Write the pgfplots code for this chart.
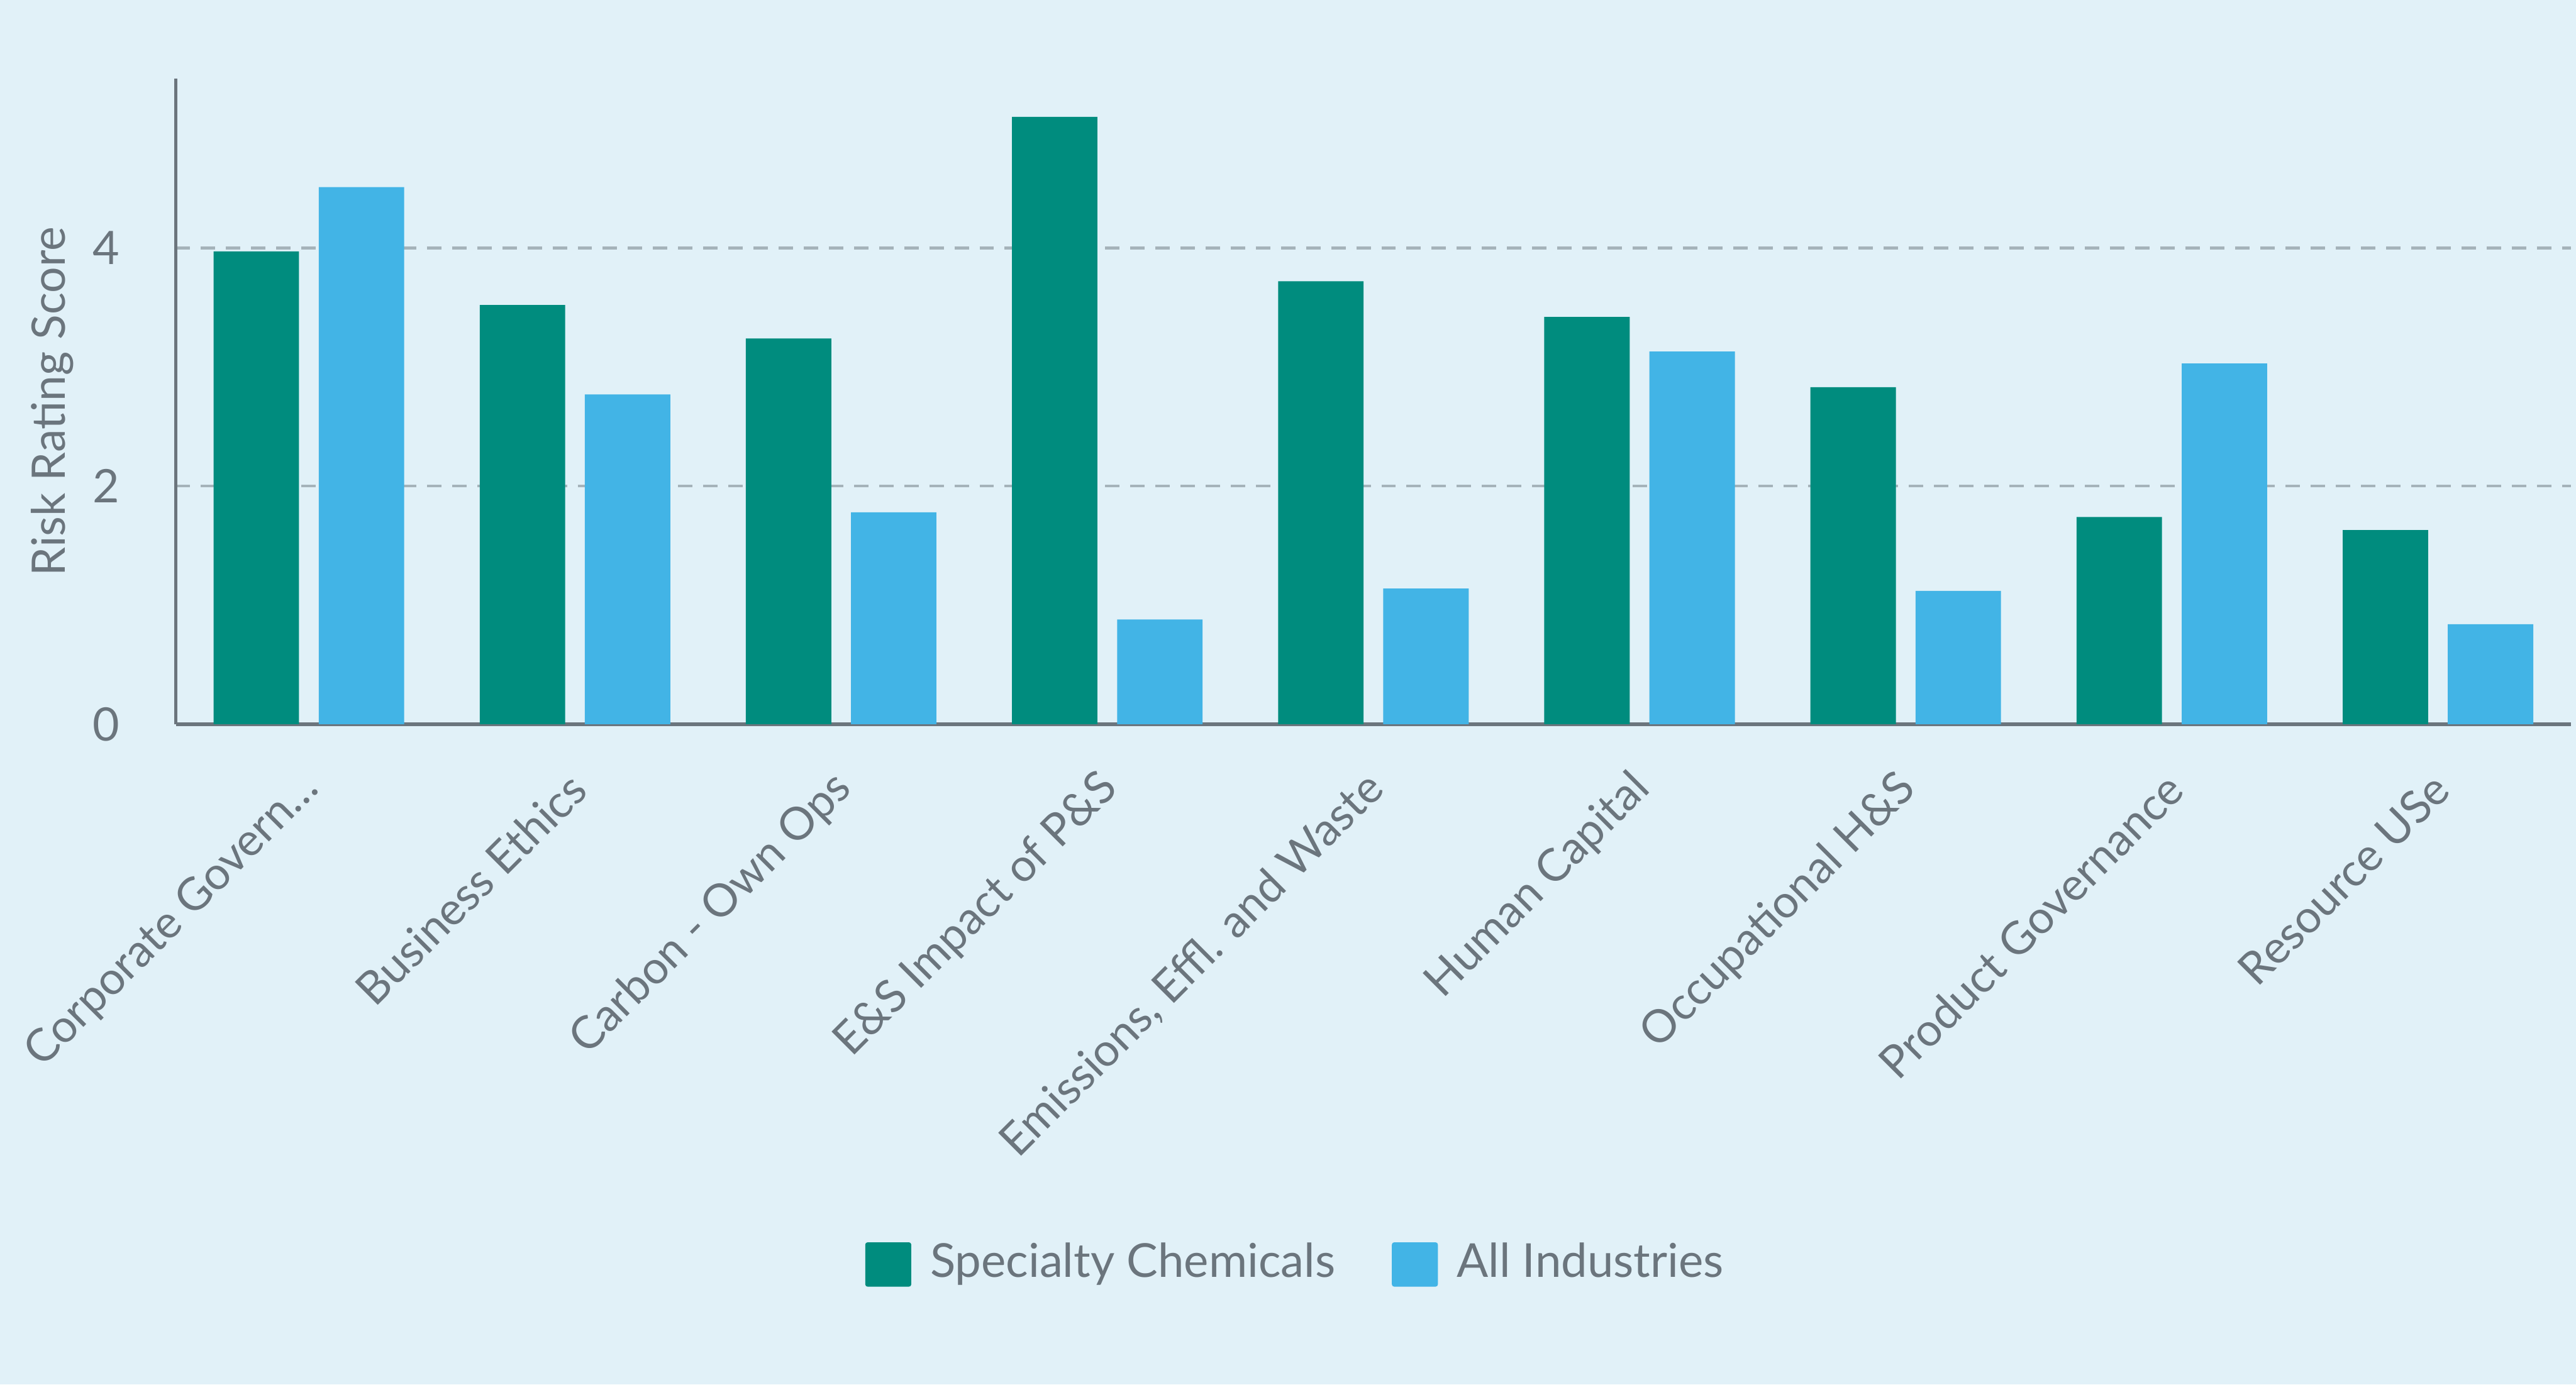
\documentclass[border=0pt]{standalone}
\usepackage{fontspec}
\setmainfont{Lato}
\usepackage{pgfplots}
\pgfplotsset{compat=1.18}
\definecolor{bgc}{HTML}{E1F1F8}
\definecolor{greenc}{HTML}{008C7E}
\definecolor{bluec}{HTML}{42B4E6}
\definecolor{textc}{HTML}{6B757D}
\definecolor{axisc}{HTML}{6B757D}
\definecolor{gridc}{HTML}{A5B3BA}
\begin{document}
\begin{tikzpicture}[font=\fontsize{8pt}{10pt}\selectfont]
\fill[bgc] (0,0) rectangle (15.68cm,8.43cm);
\begin{axis}[
  at={(1.07cm,4.02cm)}, anchor=south west,
  scale only axis, width=14.58cm, height=3.93cm,
  xmin=-0.5, xmax=8.5, ymin=0, ymax=5.42,
  axis x line*=bottom, axis y line*=left,
  axis line style={draw=axisc, line width=0.6pt, -},
  major tick length=0,
  ytick={0,2,4},
  xtick={0,1,2,3,4,5,6,7,8},
  xticklabels={{Corporate Govern\dots},{Business Ethics},{Carbon - Own Ops},{E\&S Impact of P\&S},{Emissions, Effl. and Waste},{Human Capital},{Occupational H\&S},{Product Governance},{Resource USe}},
  xticklabel style={rotate=45, anchor=east, xshift=-1.1mm, yshift=-2.6mm, text=textc, font=\fontsize{7.85pt}{10pt}\selectfont},
  yticklabel style={xshift=-2.2mm, text=textc},
  /pgf/number format/assume math mode=true,
  ymajorgrids,
  grid style={draw=gridc, line width=0.5pt, dash pattern=on 2.5pt off 1.85pt},
  ylabel={Risk Rating Score},
  ylabel style={at={(axis description cs:-0.0515,0.5)}, anchor=center, text=textc},
  legend columns=2,
  legend style={at={(0.471,-0.837)}, anchor=center, draw=none, fill=none,
    text=textc, font=\fontsize{8.1pt}{10pt}\selectfont,
    /tikz/every even column/.append style={column sep=2.3mm},
    nodes={inner sep=1.15mm}},
  legend image code/.code={\fill[#1, rounded corners=0.4pt] (0cm,-0.135cm) rectangle (0.28cm,0.135cm);},
]
\addplot[ybar, fill=greenc, draw=none, bar width=0.52cm, bar shift=-0.32cm] coordinates {
  (0,3.97) (1,3.52) (2,3.24) (3,5.10) (4,3.72) (5,3.42) (6,2.83) (7,1.74) (8,1.63)};
\addlegendentry{Specialty Chemicals}
\addplot[ybar, fill=bluec, draw=none, bar width=0.52cm, bar shift=0.32cm] coordinates {
  (0,4.51) (1,2.77) (2,1.78) (3,0.88) (4,1.14) (5,3.13) (6,1.12) (7,3.03) (8,0.84)};
\addlegendentry{All Industries}
\end{axis}
\pgfresetboundingbox
\path[use as bounding box] (0,0) rectangle (15.68cm,8.43cm);
\end{tikzpicture}
\end{document}
